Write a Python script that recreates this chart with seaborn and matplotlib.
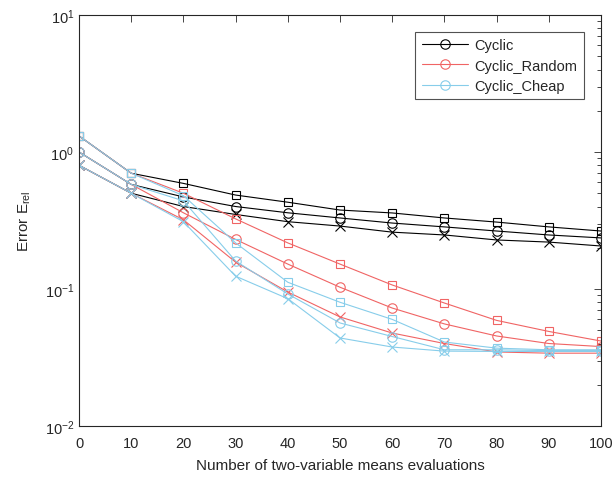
import matplotlib
matplotlib.use("Agg")
import matplotlib.pyplot as plt
import seaborn as sns
import numpy as np

# evaluations on the x axis
evals = [0, 10, 20, 30, 40, 50, 60, 70, 80, 90, 100]

# Cyclic (black): upper (square), middle (circle), lower (x)
cyclic_sq = [1.31, 0.70, 0.59, 0.485, 0.43, 0.377, 0.359, 0.33, 0.308, 0.284, 0.265]
cyclic_ci = [1.00, 0.58, 0.47, 0.40, 0.36, 0.33, 0.303, 0.284, 0.265, 0.248, 0.236]
cyclic_x = [0.80, 0.50, 0.40, 0.35, 0.31, 0.288, 0.26, 0.248, 0.228, 0.22, 0.206]

# Cyclic_Random (red)
random_sq = [1.31, 0.70, 0.50, 0.325, 0.217, 0.152, 0.107, 0.079, 0.059, 0.049, 0.0417]
random_ci = [1.00, 0.58, 0.36, 0.23, 0.152, 0.103, 0.0726, 0.0556, 0.0454, 0.040, 0.038]
random_x = [0.80, 0.50, 0.32, 0.157, 0.095, 0.0625, 0.0477, 0.040, 0.0347, 0.034, 0.034]

# Cyclic_Cheap (light blue)
cheap_sq = [1.31, 0.70, 0.48, 0.217, 0.112, 0.080, 0.060, 0.041, 0.037, 0.036, 0.036]
cheap_ci = [1.00, 0.58, 0.44, 0.16, 0.092, 0.0565, 0.045, 0.036, 0.036, 0.0355, 0.0355]
cheap_x = [0.80, 0.50, 0.31, 0.124, 0.085, 0.0439, 0.0377, 0.0352, 0.035, 0.035, 0.035]

labels = ["Cyclic", "Cyclic_Random", "Cyclic_Cheap"]
colors = ["black", "#F06464", "#87CDEA"]
series = [
    (cyclic_sq, cyclic_ci, cyclic_x),
    (random_sq, random_ci, random_x),
    (cheap_sq, cheap_ci, cheap_x),
]

sns.set_theme(style="white")
plt.rcParams["font.family"] = ["Liberation Sans", "DejaVu Sans"]
plt.rcParams["mathtext.fontset"] = "custom"
plt.rcParams["mathtext.rm"] = "Liberation Sans"
plt.rcParams["mathtext.it"] = "Liberation Sans:italic"

fig = plt.figure(figsize=(6.14, 4.81), dpi=100)
ax = fig.add_axes([0.1287, 0.1123, 0.8501, 0.8544])

for label, color, (sq, ci, xx) in zip(labels, colors, series):
    common = dict(color=color, linewidth=0.8,
                  markerfacecolor="none", markeredgecolor=color,
                  markeredgewidth=0.8, ax=ax)
    sns.lineplot(x=evals, y=sq, marker="s", markersize=6.2, legend=False, **common)
    sns.lineplot(x=evals, y=ci, marker="o", markersize=6.8, label=label, **common)
    sns.lineplot(x=evals, y=xx, marker="x", markersize=7, legend=False, **common)

ax.set_yscale("log")
ax.set_ylim(1e-2, 1e1)
ax.set_xlim(0, 100)
ax.set_xticks(evals)

for s in ax.spines.values():
    s.set_color("#262626")
    s.set_linewidth(0.8)
ax.tick_params(which="both", direction="in", top=True, right=True,
               colors="#262626", labelcolor="#262626", labelsize=10.5)
ax.tick_params(which="major", length=5, width=0.6)
ax.tick_params(which="minor", length=3, width=0.6)
ax.tick_params(axis="x", pad=7)

ax.set_xlabel("Number of two-variable means evaluations", fontsize=11,
              color="#262626", labelpad=6)
ax.set_ylabel(r"Error E$_\mathregular{rel}$", fontsize=11, color="#262626",
              labelpad=8)

leg = ax.legend(loc="upper right", bbox_to_anchor=(0.967, 0.959), fontsize=10.5,
                frameon=True, fancybox=False, edgecolor="#262626",
                handlelength=3.2, borderaxespad=0, labelspacing=0.42,
                borderpad=0.45, handletextpad=0.4)
leg.get_frame().set_linewidth(0.8)

fig.savefig("out.png", dpi=100)
